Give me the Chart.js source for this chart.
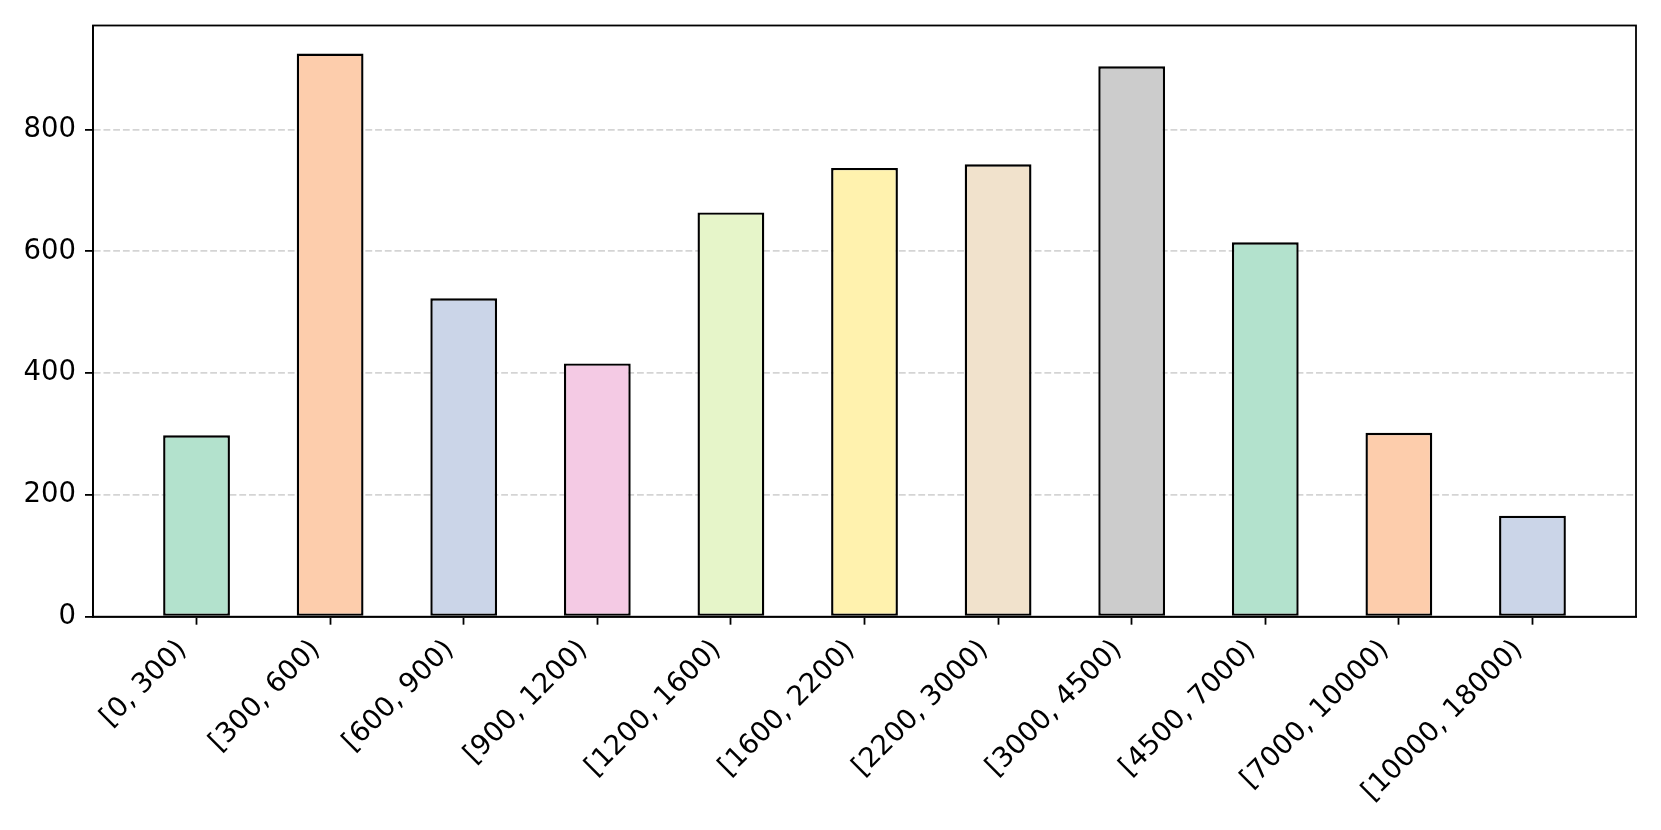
<!DOCTYPE html>
<html>
<head>
<meta charset="utf-8">
<script src="https://cdn.jsdelivr.net/npm/chart.js@4.4.0/dist/chart.umd.min.js"></script>
<style>
  html, body { margin: 0; padding: 0; background: #fff; }
  #wrap { width: 1661px; height: 830px; position: relative; }
</style>
</head>
<body>
<div id="wrap"><canvas id="rangeChart"></canvas></div>
<script>
// data
const categories = ['[0, 300)', '[300, 600)', '[600, 900)', '[900, 1200)', '[1200, 1600)',
  '[1600, 2200)', '[2200, 3000)', '[3000, 4500)', '[4500, 7000)', '[7000, 10000)', '[10000, 18000)'];
const counts = [298, 925, 523, 416, 664, 737, 743, 904, 615, 302, 166];
const yTicks = [0, 200, 400, 600, 800];

// Pastel2
const palette = ['#b3e2cd', '#fdcdac', '#cbd5e8', '#f4cae4', '#e6f5c9', '#fff2ae', '#f1e2cc', '#cccccc'];

const font = { family: 'DejaVu Sans', size: 27.5 };
const lw = 1.8;

// top + right spines
const frame = {
  id: 'frame',
  afterDraw(chart) {
    const { ctx, chartArea: a } = chart;
    ctx.save();
    ctx.strokeStyle = '#000';
    ctx.lineWidth = lw;
    ctx.strokeRect(a.left, a.top, a.right - a.left, a.bottom - a.top);
    ctx.restore();
  }
};

new Chart(document.getElementById('rangeChart'), {
  type: 'bar',
  data: {
    datasets: [{
      data: counts.map((v, i) => ({ x: i, y: v })),
      backgroundColor: counts.map((_, i) => palette[i % palette.length]),
      borderColor: '#000',
      borderWidth: 2.4,
      borderSkipped: false,
      categoryPercentage: 1,
      barPercentage: 0.5
    }]
  },
  options: {
    responsive: true,
    maintainAspectRatio: false,
    animation: false,
    layout: { padding: { top: 24, right: 25, left: 0, bottom: 0 } },
    plugins: { legend: { display: false }, tooltip: { enabled: false } },
    scales: {
      x: {
        type: 'linear',
        offset: false,
        min: -0.775,
        max: 10.775,
        afterBuildTicks: s => { s.ticks = categories.map((_, i) => ({ value: i })); },
        afterFit: s => { s.height = 213.3; },
        border: { color: '#000', width: lw },
        grid: { offset: false, drawOnChartArea: false, drawTicks: true, tickLength: 8, tickColor: '#000', tickWidth: lw },
        ticks: {
          color: '#000',
          font,
          padding: 9,
          labelOffset: -14,
          maxRotation: 45,
          minRotation: 45,
          autoSkip: false,
          callback: v => categories[v]
        }
      },
      y: {
        min: 0,
        max: 971,
        z: 1,
        afterBuildTicks: s => { s.ticks = yTicks.map(v => ({ value: v })); },
        afterFit: s => { s.width = 93; },
        border: { color: '#000', width: lw, dash: [6.8, 2.9] },
        grid: {
          color: c => (c.tick && c.tick.value === 0) ? 'rgba(0,0,0,0)' : 'rgba(176,176,176,0.55)',
          lineWidth: lw,
          drawTicks: true,
          tickLength: 8,
          tickColor: '#000',
          tickWidth: lw,
          tickBorderDash: []
        },
        ticks: { color: '#000', font, padding: 9 }
      }
    }
  },
  plugins: [frame]
});
</script>
</body>
</html>
